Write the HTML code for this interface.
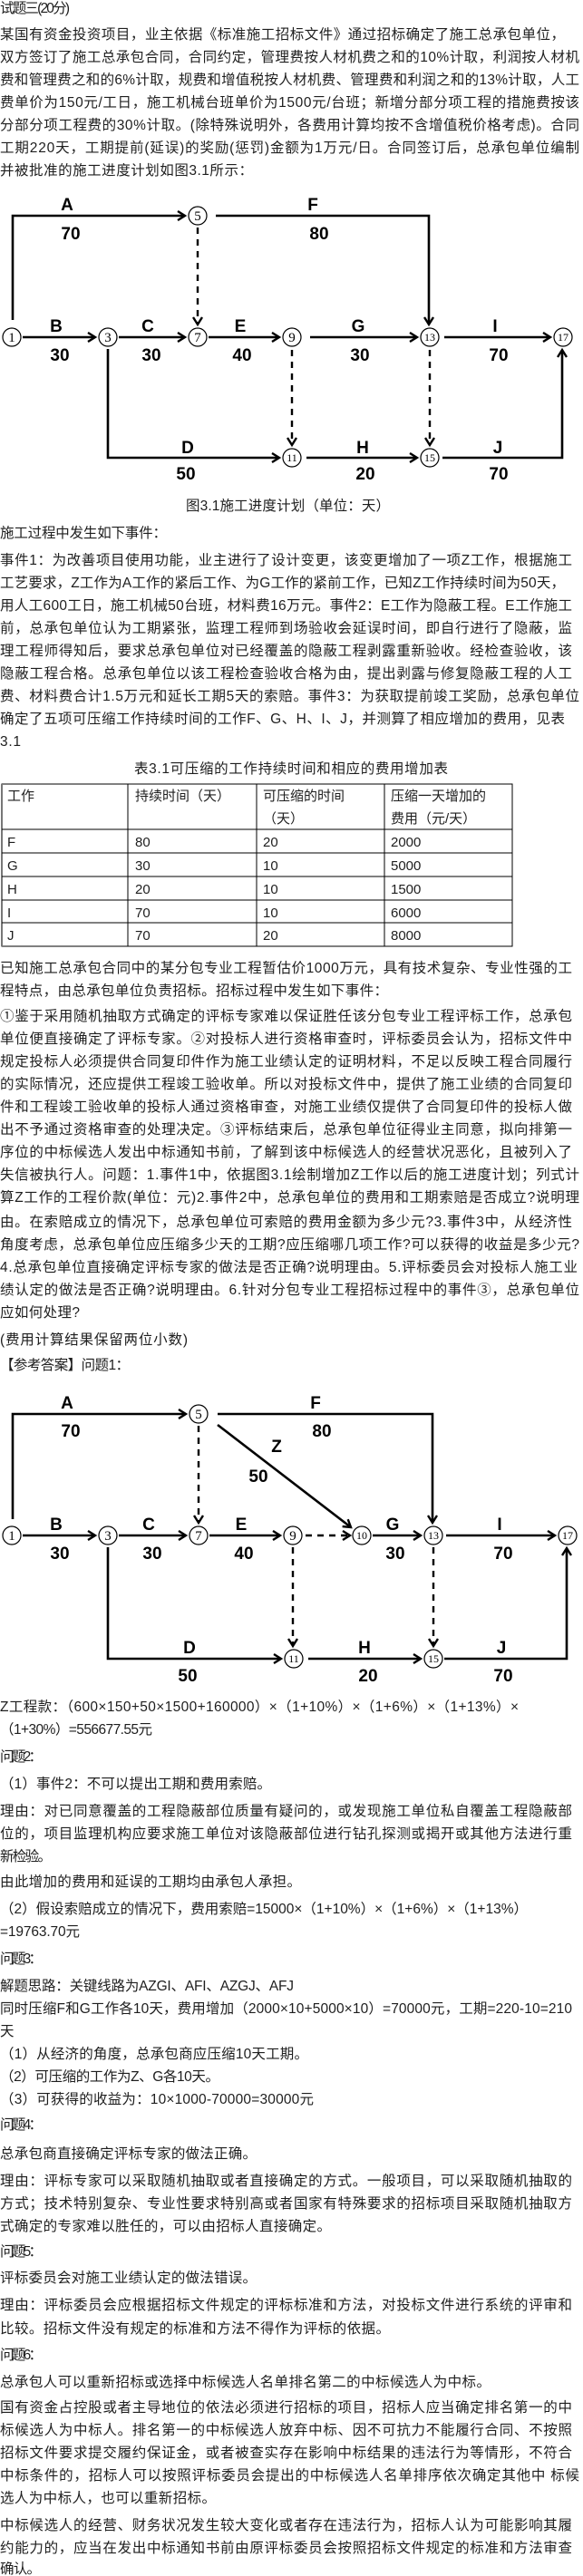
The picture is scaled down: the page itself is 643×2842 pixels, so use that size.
<!DOCTYPE html>
<html><head><meta charset="utf-8"><style>
html,body{margin:0;padding:0;background:#fff;}
svg{display:block;}
.t{font-family:"Liberation Sans","Noto Sans CJK SC",sans-serif;font-size:15.5px;fill:#1e1e1e;}
.c{font-family:"Liberation Sans","Noto Sans CJK SC",sans-serif;font-size:15px;fill:#1e1e1e;}
.l{font-family:"Liberation Sans",sans-serif;font-size:19px;font-weight:bold;fill:#000;text-anchor:middle;}
.n{font-family:"Liberation Serif",serif;font-size:15px;fill:#000;text-anchor:middle;}
.n2{font-family:"Liberation Serif",serif;font-size:12px;fill:#000;text-anchor:middle;}
.a{fill:none;stroke:#000;stroke-width:2.6;marker-end:url(#ar);}
.d{fill:none;stroke:#000;stroke-width:2.4;stroke-dasharray:7,6;marker-end:url(#ar);}
.nc{fill:#fff;stroke:#000;stroke-width:1.2;}
</style></head><body>
<svg width="643" height="2842" viewBox="0 0 643 2842" xmlns="http://www.w3.org/2000/svg">
<defs><marker id="ar" markerUnits="userSpaceOnUse" markerWidth="12" markerHeight="12" refX="9" refY="6" orient="auto"><path d="M1,1 L9,6 L1,11" fill="none" stroke="#000" stroke-width="2.4"/></marker></defs>

<text class="t" x="0" y="14" textLength="77">试题三(20分)</text>
<text class="t" x="0" y="43" textLength="623">某国有资金投资项目，业主依据《标准施工招标文件》通过招标确定了施工总承包单位，</text>
<text class="t" x="0" y="68" textLength="639">双方签订了施工总承包合同，合同约定，管理费按人材机费之和的10%计取，利润按人材机</text>
<text class="t" x="0" y="93" textLength="639">费和管理费之和的6%计取，规费和增值税按人材机费、管理费和利润之和的13%计取，人工</text>
<text class="t" x="0" y="118" textLength="639">费单价为150元/工日，施工机械台班单价为1500元/台班；新增分部分项工程的措施费按该</text>
<text class="t" x="0" y="143" textLength="639">分部分项工程费的30%计取。(除特殊说明外，各费用计算均按不含增值税价格考虑)。合同</text>
<text class="t" x="0" y="168" textLength="639">工期220天，工期提前(延误)的奖励(惩罚)金额为1万元/日。合同签订后，总承包单位编制</text>
<text class="t" x="0" y="193" textLength="279">并被批准的施工进度计划如图3.1所示：</text>

<!-- Diagram 1 -->
<path class="a" d="M14,353 V238 H204"/>
<path class="a" d="M238,238 H473 V358"/>
<path class="d" d="M218,251 V358"/>
<path class="a" d="M25,372 H105"/>
<path class="a" d="M131,372 H204"/>
<path class="a" d="M230,372 H308"/>
<path class="a" d="M342,372 H460"/>
<path class="a" d="M490,372 H607"/>
<path class="a" d="M119,385 V505 H308"/>
<path class="a" d="M338,505 H460"/>
<path class="a" d="M488,505 H620 V386"/>
<path class="d" d="M322,386 V491"/>
<path class="d" d="M474,386 V491"/>
<g>
<circle class="nc" cx="218" cy="238" r="10"/><text class="n" x="218" y="243">5</text>
<circle class="nc" cx="13" cy="372" r="10"/><text class="n" x="13" y="377">1</text>
<circle class="nc" cx="119" cy="372" r="10"/><text class="n" x="119" y="377">3</text>
<circle class="nc" cx="218" cy="372" r="10"/><text class="n" x="218" y="377">7</text>
<circle class="nc" cx="322" cy="372" r="10"/><text class="n" x="322" y="377">9</text>
<circle class="nc" cx="474" cy="372" r="10"/><text class="n2" x="474" y="376">13</text>
<circle class="nc" cx="621" cy="372" r="10"/><text class="n2" x="621" y="376">17</text>
<circle class="nc" cx="322" cy="505" r="10"/><text class="n2" x="322" y="509">11</text>
<circle class="nc" cx="474" cy="505" r="10"/><text class="n2" x="474" y="509">15</text>
</g>
<text class="l" x="74" y="232">A</text><text class="l" x="78" y="264">70</text>
<text class="l" x="345" y="232">F</text><text class="l" x="352" y="264">80</text>
<text class="l" x="62" y="366">B</text><text class="l" x="66" y="398">30</text>
<text class="l" x="163" y="366">C</text><text class="l" x="167" y="398">30</text>
<text class="l" x="265" y="366">E</text><text class="l" x="267" y="398">40</text>
<text class="l" x="395" y="366">G</text><text class="l" x="397" y="398">30</text>
<text class="l" x="546" y="366">I</text><text class="l" x="550" y="398">70</text>
<text class="l" x="207" y="500">D</text><text class="l" x="205" y="529">50</text>
<text class="l" x="400" y="500">H</text><text class="l" x="403" y="529">20</text>
<text class="l" x="549" y="500">J</text><text class="l" x="550" y="529">70</text>
<text class="t" x="205" y="563" textLength="225">图3.1施工进度计划（单位：天）</text>

<text class="t" x="0" y="593" textLength="184">施工过程中发生如下事件：</text>
<text class="t" x="0" y="623" textLength="631">事件1：为改善项目使用功能，业主进行了设计变更，该变更增加了一项Z工作，根据施工</text>
<text class="t" x="0" y="648" textLength="623">工艺要求，Z工作为A工作的紧后工作、为G工作的紧前工作，已知Z工作持续时间为50天，</text>
<text class="t" x="0" y="673" textLength="631">用人工600工日，施工机械50台班，材料费16万元。事件2：E工作为隐蔽工程。E工作施工</text>
<text class="t" x="0" y="698" textLength="631">前，总承包单位认为工期紧张，监理工程师到场验收会延误时间，即自行进行了隐蔽，监</text>
<text class="t" x="0" y="723" textLength="631">理工程师得知后，要求总承包单位对已经覆盖的隐蔽工程剥露重新验收。经检查验收，该</text>
<text class="t" x="0" y="748" textLength="631">隐蔽工程合格。总承包单位以该工程检查验收合格为由，提出剥露与修复隐蔽工程的人工</text>
<text class="t" x="0" y="773" textLength="639">费、材料费合计1.5万元和延长工期5天的索赔。事件3：为获取提前竣工奖励，总承包单位</text>
<text class="t" x="0" y="798" textLength="623">确定了五项可压缩工作持续时间的工作F、G、H、I、J，并测算了相应增加的费用，见表</text>
<text class="t" x="0" y="823" textLength="23">3.1</text>
<text class="t" x="148" y="853" textLength="346">表3.1可压缩的工作持续时间和相应的费用增加表</text>

<!-- Table -->
<g stroke="#000" stroke-width="1" fill="none">
<rect x="2" y="865" width="563" height="179"/>
<line x1="2" y1="865" x2="2" y2="1044" stroke="#777" stroke-width="2"/>
<line x1="141" y1="865" x2="141" y2="1044"/><line x1="283" y1="865" x2="283" y2="1044"/><line x1="424" y1="865" x2="424" y2="1044"/>
<line x1="2" y1="915" x2="565" y2="915"/><line x1="2" y1="941" x2="565" y2="941"/><line x1="2" y1="967" x2="565" y2="967"/><line x1="2" y1="993" x2="565" y2="993"/><line x1="2" y1="1018" x2="565" y2="1018"/>
</g>
<text class="c" x="8" y="883">工作</text>
<text class="c" x="149" y="883">持续时间（天）</text>
<text class="c" x="290" y="883">可压缩的时间</text><text class="c" x="290" y="908">（天）</text>
<text class="c" x="431" y="883">压缩一天增加的</text><text class="c" x="431" y="908">费用（元/天）</text>
<text class="c" x="8" y="934">F</text><text class="c" x="149" y="934">80</text><text class="c" x="290" y="934">20</text><text class="c" x="431" y="934">2000</text>
<text class="c" x="8" y="960">G</text><text class="c" x="149" y="960">30</text><text class="c" x="290" y="960">10</text><text class="c" x="431" y="960">5000</text>
<text class="c" x="8" y="986">H</text><text class="c" x="149" y="986">20</text><text class="c" x="290" y="986">10</text><text class="c" x="431" y="986">1500</text>
<text class="c" x="8" y="1012">I</text><text class="c" x="149" y="1012">70</text><text class="c" x="290" y="1012">10</text><text class="c" x="431" y="1012">6000</text>
<text class="c" x="8" y="1037">J</text><text class="c" x="149" y="1037">70</text><text class="c" x="290" y="1037">20</text><text class="c" x="431" y="1037">8000</text>

<text class="t" x="0" y="1073" textLength="631">已知施工总承包合同中的某分包专业工程暂估价1000万元，具有技术复杂、专业性强的工</text>
<text class="t" x="0" y="1098" textLength="428">程特点，由总承包单位负责招标。招标过程中发生如下事件：</text>
<text class="t" x="0" y="1126" textLength="631">①鉴于采用随机抽取方式确定的评标专家难以保证胜任该分包专业工程评标工作，总承包</text>
<text class="t" x="0" y="1151" textLength="631">单位便直接确定了评标专家。②对投标人进行资格审查时，评标委员会认为，招标文件中</text>
<text class="t" x="0" y="1176" textLength="631">规定投标人必须提供合同复印件作为施工业绩认定的证明材料，不足以反映工程合同履行</text>
<text class="t" x="0" y="1201" textLength="631">的实际情况，还应提供工程竣工验收单。所以对投标文件中，提供了施工业绩的合同复印</text>
<text class="t" x="0" y="1226" textLength="631">件和工程竣工验收单的投标人通过资格审查，对施工业绩仅提供了合同复印件的投标人做</text>
<text class="t" x="0" y="1251" textLength="631">出不予通过资格审查的处理决定。③评标结束后，总承包单位征得业主同意，拟向排第一</text>
<text class="t" x="0" y="1276" textLength="631">序位的中标候选人发出中标通知书前，了解到该中标候选人的经营状况恶化，且被列入了</text>
<text class="t" x="0" y="1301" textLength="639">失信被执行人。问题：1.事件1中，依据图3.1绘制增加Z工作以后的施工进度计划；列式计</text>
<text class="t" x="0" y="1326" textLength="639">算Z工作的工程价款(单位：元)2.事件2中，总承包单位的费用和工期索赔是否成立?说明理</text>
<text class="t" x="0" y="1353" textLength="631">由。在索赔成立的情况下，总承包单位可索赔的费用金额为多少元?3.事件3中，从经济性</text>
<text class="t" x="0" y="1378" textLength="639">角度考虑，总承包单位应压缩多少天的工期?应压缩哪几项工作?可以获得的收益是多少元?</text>
<text class="t" x="0" y="1403" textLength="637">4.总承包单位直接确定评标专家的做法是否正确?说明理由。5.评标委员会对投标人施工业</text>
<text class="t" x="0" y="1428" textLength="639">绩认定的做法是否正确?说明理由。6.针对分包专业工程招标过程中的事件③，总承包单位</text>
<text class="t" x="0" y="1453" textLength="88">应如何处理?</text>
<text class="t" x="0" y="1483" textLength="207">(费用计算结果保留两位小数)</text>
<text class="t" x="0" y="1511" textLength="143">【参考答案】问题1：</text>

<!-- Diagram 2 -->
<path class="a" d="M14,1676 V1560 H205"/>
<path class="a" d="M240,1560 H477 V1680"/>
<path class="d" d="M219,1573 V1680"/>
<path class="a" d="M240,1572 L387,1685"/>
<path class="a" d="M25,1694 H105"/>
<path class="a" d="M131,1694 H205"/>
<path class="a" d="M231,1694 H309"/>
<path class="d" d="M337,1694 H386"/>
<path class="a" d="M411,1694 H464"/>
<path class="a" d="M492,1694 H612"/>
<path class="a" d="M119,1707 V1830 H310"/>
<path class="a" d="M340,1830 H464"/>
<path class="a" d="M490,1830 H625 V1708"/>
<path class="d" d="M323,1707 V1816"/>
<path class="d" d="M478,1707 V1816"/>
<g>
<circle class="nc" cx="219" cy="1560" r="10"/><text class="n" x="219" y="1565">5</text>
<circle class="nc" cx="13" cy="1694" r="10"/><text class="n" x="13" y="1699">1</text>
<circle class="nc" cx="119" cy="1694" r="10"/><text class="n" x="119" y="1699">3</text>
<circle class="nc" cx="219" cy="1694" r="10"/><text class="n" x="219" y="1699">7</text>
<circle class="nc" cx="323" cy="1694" r="10"/><text class="n" x="323" y="1699">9</text>
<circle class="nc" cx="399" cy="1694" r="10"/><text class="n2" x="399" y="1698">10</text>
<circle class="nc" cx="478" cy="1694" r="10"/><text class="n2" x="478" y="1698">13</text>
<circle class="nc" cx="626" cy="1694" r="10"/><text class="n2" x="626" y="1698">17</text>
<circle class="nc" cx="324" cy="1830" r="10"/><text class="n2" x="324" y="1834">11</text>
<circle class="nc" cx="478" cy="1830" r="10"/><text class="n2" x="478" y="1834">15</text>
</g>
<text class="l" x="74" y="1554">A</text><text class="l" x="78" y="1585">70</text>
<text class="l" x="348" y="1554">F</text><text class="l" x="355" y="1585">80</text>
<text class="l" x="305" y="1602">Z</text><text class="l" x="285" y="1635">50</text>
<text class="l" x="62" y="1688">B</text><text class="l" x="66" y="1720">30</text>
<text class="l" x="164" y="1688">C</text><text class="l" x="168" y="1720">30</text>
<text class="l" x="266" y="1688">E</text><text class="l" x="269" y="1720">40</text>
<text class="l" x="433" y="1688">G</text><text class="l" x="436" y="1720">30</text>
<text class="l" x="551" y="1688">I</text><text class="l" x="555" y="1720">70</text>
<text class="l" x="209" y="1824">D</text><text class="l" x="207" y="1855">50</text>
<text class="l" x="402" y="1824">H</text><text class="l" x="406" y="1855">20</text>
<text class="l" x="553" y="1824">J</text><text class="l" x="555" y="1855">70</text>

<text class="t" x="0" y="1888" textLength="572">Z工程款：（600×150+50×1500+160000）×（1+10%）×（1+6%）×（1+13%）×</text>
<text class="t" x="0" y="1913" textLength="168">（1+30%）=556677.55元</text>
<text class="t" x="0" y="1943" textLength="47">问题2：</text>
<text class="t" x="0" y="1973" textLength="299">（1）事件2：不可以提出工期和费用索赔。</text>
<text class="t" x="0" y="2003" textLength="631">理由：对已同意覆盖的工程隐蔽部位质量有疑问的，或发现施工单位私自覆盖工程隐蔽部</text>
<text class="t" x="0" y="2028" textLength="631">位的，项目监理机构应要求施工单位对该隐蔽部位进行钻孔探测或揭开或其他方法进行重</text>
<text class="t" x="0" y="2053" textLength="57">新检验。</text>
<text class="t" x="0" y="2081" textLength="332">由此增加的费用和延误的工期均由承包人承担。</text>
<text class="t" x="0" y="2111" textLength="582">（2）假设索赔成立的情况下，费用索赔=15000×（1+10%）×（1+6%）×（1+13%）</text>
<text class="t" x="0" y="2136" textLength="88">=19763.70元</text>
<text class="t" x="0" y="2166" textLength="47">问题3：</text>
<text class="t" x="0" y="2196" textLength="324">解题思路：关键线路为AZGI、AFI、AZGJ、AFJ</text>
<text class="t" x="0" y="2221" textLength="631">同时压缩F和G工作各10天，费用增加（2000×10+5000×10）=70000元，工期=220-10=210</text>
<text class="t" x="0" y="2246" textLength="16">天</text>
<text class="t" x="0" y="2271" textLength="340">（1）从经济的角度，总承包商应压缩10天工期。</text>
<text class="t" x="0" y="2296" textLength="242">（2）可压缩的工作为Z、G各10天。</text>
<text class="t" x="0" y="2321" textLength="346">（3）可获得的收益为：10×1000-70000=30000元</text>
<text class="t" x="0" y="2349" textLength="47">问题4：</text>
<text class="t" x="0" y="2381" textLength="283">总承包商直接确定评标专家的做法正确。</text>
<text class="t" x="0" y="2411" textLength="631">理由：评标专家可以采取随机抽取或者直接确定的方式。一般项目，可以采取随机抽取的</text>
<text class="t" x="0" y="2436" textLength="631">方式；技术特别复杂、专业性要求特别高或者国家有特殊要求的招标项目采取随机抽取方</text>
<text class="t" x="0" y="2461" textLength="365">式确定的专家难以胜任的，可以由招标人直接确定。</text>
<text class="t" x="0" y="2489" textLength="47">问题5：</text>
<text class="t" x="0" y="2518" textLength="283">评标委员会对施工业绩认定的做法错误。</text>
<text class="t" x="0" y="2548" textLength="631">理由：评标委员会应根据招标文件规定的评标标准和方法，对投标文件进行系统的评审和</text>
<text class="t" x="0" y="2574" textLength="430">比较。招标文件没有规定的标准和方法不得作为评标的依据。</text>
<text class="t" x="0" y="2603" textLength="47">问题6：</text>
<text class="t" x="0" y="2633" textLength="541">总承包人可以重新招标或选择中标候选人名单排名第二的中标候选人为中标。</text>
<text class="t" x="0" y="2661" textLength="631">国有资金占控股或者主导地位的依法必须进行招标的项目，招标人应当确定排名第一的中</text>
<text class="t" x="0" y="2686" textLength="631">标候选人为中标人。排名第一的中标候选人放弃中标、因不可抗力不能履行合同、不按照</text>
<text class="t" x="0" y="2711" textLength="631">招标文件要求提交履约保证金，或者被查实存在影响中标结果的违法行为等情形，不符合</text>
<text class="t" x="0" y="2736" textLength="639">中标条件的，招标人可以按照评标委员会提出的中标候选人名单排序依次确定其他中 标候</text>
<text class="t" x="0" y="2761" textLength="238">选人为中标人，也可以重新招标。</text>
<text class="t" x="0" y="2791" textLength="631">中标候选人的经营、财务状况发生较大变化或者存在违法行为，招标人认为可能影响其履</text>
<text class="t" x="0" y="2816" textLength="631">约能力的，应当在发出中标通知书前由原评标委员会按照招标文件规定的标准和方法审查</text>
<text class="t" x="0" y="2839" textLength="45">确认。</text>
</svg>
</body></html>
